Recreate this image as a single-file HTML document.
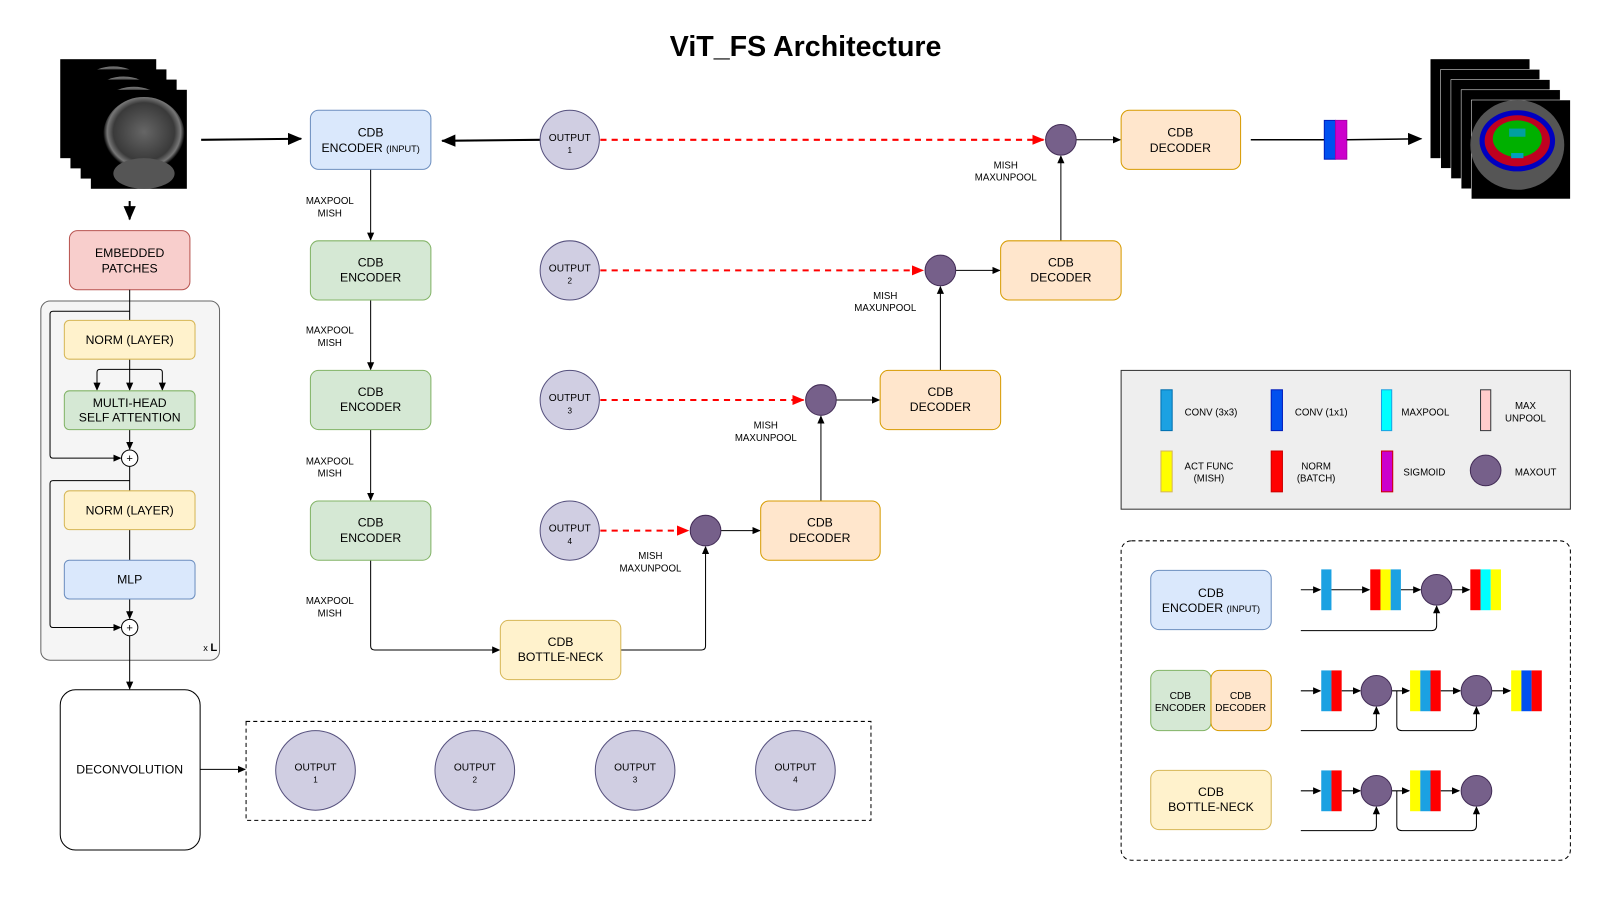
<!DOCTYPE html>
<html><head><meta charset="utf-8"><style>
html,body{margin:0;padding:0;background:#fff;}
svg{display:block;}
text{font-family:"Liberation Sans",Arial,sans-serif;fill:#000;}
</style></head><body>
<svg width="1600" height="900" viewBox="0 0 1567 882" preserveAspectRatio="none" xmlns="http://www.w3.org/2000/svg">
<defs>
<marker id="a" markerWidth="8" markerHeight="8" refX="7" refY="4" orient="auto" markerUnits="userSpaceOnUse"><path d="M0,0.5 L8,4 L0,7.5 z" fill="#000"/></marker>
<marker id="ab" markerWidth="14" markerHeight="12" refX="13" refY="6" orient="auto" markerUnits="userSpaceOnUse"><path d="M0,0 L14,6 L0,12 z" fill="#000"/></marker>
<marker id="ar" markerWidth="12" markerHeight="10" refX="11" refY="5" orient="auto" markerUnits="userSpaceOnUse"><path d="M0,0 L12,5 L0,10 z" fill="#f00"/></marker>
<radialGradient id="br" cx="0.5" cy="0.45" r="0.5"><stop offset="0" stop-color="#666"/><stop offset="0.75" stop-color="#3a3a3a"/><stop offset="0.9" stop-color="#777"/><stop offset="1" stop-color="#000"/></radialGradient>
<g id="img"><rect width="94" height="97" fill="#000"/><ellipse cx="52" cy="45" rx="40" ry="38" fill="url(#br)"/><ellipse cx="52" cy="82" rx="30" ry="15" fill="#555"/></g>
</defs>

<text x="789" y="55" font-size="28" font-weight="bold" text-anchor="middle">ViT_FS Architecture</text>

<use href="#img" x="59" y="58"/><use href="#img" x="69" y="68"/><use href="#img" x="79" y="78"/><use href="#img" x="89" y="88"/>
<line x1="197" y1="137" x2="295" y2="136" stroke="#000" stroke-width="2" marker-end="url(#ab)"/>
<line x1="127" y1="197" x2="127" y2="215" stroke="#000" stroke-width="2" marker-end="url(#ab)"/>

<g>
<rect x="1401" y="58" width="97" height="97" fill="#000"/><rect x="1411" y="68" width="97" height="97" fill="#000" stroke="#fff" stroke-width="0.5"/><rect x="1421" y="78" width="97" height="97" fill="#000" stroke="#fff" stroke-width="0.5"/><rect x="1431" y="88" width="97" height="97" fill="#000" stroke="#fff" stroke-width="0.5"/><rect x="1441" y="98" width="97" height="97" fill="#000" stroke="#fff" stroke-width="0.5"/>
<ellipse cx="1486" cy="142" rx="46" ry="44" fill="#555"/>
<ellipse cx="1486" cy="138" rx="37" ry="30" fill="#0000c0"/>
<ellipse cx="1486" cy="138" rx="32" ry="25" fill="#c00020"/>
<ellipse cx="1486" cy="136" rx="24" ry="18" fill="#00b000"/>
<rect x="1478" y="126" width="16" height="8" fill="#00a0a0"/>
<rect x="1480" y="150" width="12" height="5" fill="#00a0c0"/>
</g>
<line x1="1225" y1="137" x2="1297" y2="137" stroke="#000" stroke-width="1.5"/>
<rect x="1297" y="118" width="11" height="38" fill="#0050ef" stroke="#001dbc"/>
<rect x="1308" y="118" width="11" height="38" fill="#cc00cc" stroke="#a0a"/>
<line x1="1319" y1="137" x2="1392" y2="136" stroke="#000" stroke-width="1.5" marker-end="url(#ab)"/>

<rect x="68" y="226" width="118" height="58" rx="8" fill="#f8cecc" stroke="#b85450"/>
<text x="127" y="252" font-size="12" text-anchor="middle">EMBEDDED</text><text x="127" y="267" font-size="12" text-anchor="middle">PATCHES</text>
<rect x="40" y="295" width="175" height="352" rx="9" fill="#f5f5f5" stroke="#666"/>
<text x="199" y="638" font-size="9">x <tspan font-weight="bold" font-size="11">L</tspan></text>
<g stroke="#000" fill="none" stroke-width="1">
<line x1="127" y1="284" x2="127" y2="314"/>
<path d="M127,305 H52 Q49,305 49,308 V446 Q49,449 52,449 H118" marker-end="url(#a)"/>
<line x1="127" y1="352" x2="127" y2="382" marker-end="url(#a)"/>
<path d="M127,362 H98 Q95,362 95,365 V382" marker-end="url(#a)"/>
<path d="M127,362 H156 Q159,362 159,365 V382" marker-end="url(#a)"/>
<line x1="127" y1="421" x2="127" y2="440" marker-end="url(#a)"/>
<line x1="127" y1="457" x2="127" y2="481"/>
<path d="M127,471 H52 Q49,471 49,474 V612 Q49,615 52,615 H118" marker-end="url(#a)"/>
<line x1="127" y1="519" x2="127" y2="549"/>
<line x1="127" y1="587" x2="127" y2="606" marker-end="url(#a)"/>
<line x1="127" y1="623" x2="127" y2="675" marker-end="url(#a)"/>
</g>
<rect x="63" y="314" width="128" height="38" rx="5" fill="#fff2cc" stroke="#d6b656"/>
<text x="127" y="337" font-size="12" text-anchor="middle">NORM (LAYER)</text>
<rect x="63" y="383" width="128" height="38" rx="5" fill="#d5e8d4" stroke="#82b366"/>
<text x="127" y="399" font-size="12" text-anchor="middle">MULTI-HEAD</text><text x="127" y="413" font-size="12" text-anchor="middle">SELF ATTENTION</text>
<circle cx="127" cy="449" r="8" fill="#fff" stroke="#000"/><text x="127" y="453" font-size="11" text-anchor="middle">+</text>
<rect x="63" y="481" width="128" height="38" rx="5" fill="#fff2cc" stroke="#d6b656"/>
<text x="127" y="504" font-size="12" text-anchor="middle">NORM (LAYER)</text>
<rect x="63" y="549" width="128" height="38" rx="5" fill="#dae8fc" stroke="#6c8ebf"/>
<text x="127" y="572" font-size="12" text-anchor="middle">MLP</text>
<circle cx="127" cy="615" r="8" fill="#fff" stroke="#000"/><text x="127" y="619" font-size="11" text-anchor="middle">+</text>

<rect x="59" y="676" width="137" height="157" rx="15" fill="#fff" stroke="#000"/>
<text x="127" y="758" font-size="12" text-anchor="middle">DECONVOLUTION</text>
<line x1="196" y1="754" x2="240" y2="754" stroke="#000" marker-end="url(#a)"/>
<rect x="241" y="707" width="612" height="97" fill="none" stroke="#000" stroke-dasharray="4,3"/>
<g font-size="10" text-anchor="middle">
<circle cx="309" cy="755" r="39" fill="#d0cee2" stroke="#56517e"/><text x="309" y="755">OUTPUT</text><text x="309" y="767" font-size="8">1</text>
<circle cx="465" cy="755" r="39" fill="#d0cee2" stroke="#56517e"/><text x="465" y="755">OUTPUT</text><text x="465" y="767" font-size="8">2</text>
<circle cx="622" cy="755" r="39" fill="#d0cee2" stroke="#56517e"/><text x="622" y="755">OUTPUT</text><text x="622" y="767" font-size="8">3</text>
<circle cx="779" cy="755" r="39" fill="#d0cee2" stroke="#56517e"/><text x="779" y="755">OUTPUT</text><text x="779" y="767" font-size="8">4</text>
</g>

<g stroke="#000" fill="none" stroke-width="1">
<line x1="363" y1="166" x2="363" y2="235" marker-end="url(#a)"/>
<line x1="363" y1="294" x2="363" y2="362" marker-end="url(#a)"/>
<line x1="363" y1="421" x2="363" y2="490" marker-end="url(#a)"/>
<path d="M363,549 V633 Q363,637 367,637 H489" marker-end="url(#a)"/>
<path d="M608,637 H687 Q691,637 691,633 V536" marker-end="url(#a)"/>
<line x1="529" y1="137" x2="433" y2="138" stroke-width="2" marker-end="url(#ab)"/>
<line x1="1054" y1="137" x2="1097" y2="137" marker-end="url(#a)"/>
<line x1="936" y1="265" x2="979" y2="265" marker-end="url(#a)"/>
<line x1="819" y1="392" x2="861" y2="392" marker-end="url(#a)"/>
<line x1="706" y1="520" x2="744" y2="520" marker-end="url(#a)"/>
<line x1="804" y1="491" x2="804" y2="408" marker-end="url(#a)"/>
<line x1="921" y1="363" x2="921" y2="281" marker-end="url(#a)"/>
<line x1="1039" y1="236" x2="1039" y2="153" marker-end="url(#a)"/>
</g>
<g stroke="#f00" stroke-width="2" stroke-dasharray="6,5" fill="none">
<line x1="588" y1="137" x2="1022" y2="137" marker-end="url(#ar)"/>
<line x1="588" y1="265" x2="904" y2="265" marker-end="url(#ar)"/>
<line x1="588" y1="392" x2="787" y2="392" marker-end="url(#ar)"/>
<line x1="588" y1="520" x2="674" y2="520" marker-end="url(#ar)"/>
</g>
<g font-size="9.5" text-anchor="middle">
<text x="323" y="200">MAXPOOL</text><text x="323" y="212">MISH</text>
<text x="323" y="327">MAXPOOL</text><text x="323" y="339">MISH</text>
<text x="323" y="455">MAXPOOL</text><text x="323" y="467">MISH</text>
<text x="323" y="592">MAXPOOL</text><text x="323" y="604">MISH</text>
<text x="637" y="548">MISH</text><text x="637" y="560">MAXUNPOOL</text>
<text x="750" y="420">MISH</text><text x="750" y="432">MAXUNPOOL</text>
<text x="867" y="293">MISH</text><text x="867" y="305">MAXUNPOOL</text>
<text x="985" y="165">MISH</text><text x="985" y="177">MAXUNPOOL</text>
</g>
<g font-size="12" text-anchor="middle">
<rect x="304" y="108" width="118" height="58" rx="8" fill="#dae8fc" stroke="#6c8ebf"/><text x="363" y="134">CDB</text><text x="363" y="149">ENCODER <tspan font-size="9">(INPUT)</tspan></text>
<rect x="304" y="236" width="118" height="58" rx="8" fill="#d5e8d4" stroke="#82b366"/><text x="363" y="261">CDB</text><text x="363" y="276">ENCODER</text>
<rect x="304" y="363" width="118" height="58" rx="8" fill="#d5e8d4" stroke="#82b366"/><text x="363" y="388">CDB</text><text x="363" y="403">ENCODER</text>
<rect x="304" y="491" width="118" height="58" rx="8" fill="#d5e8d4" stroke="#82b366"/><text x="363" y="516">CDB</text><text x="363" y="531">ENCODER</text>
<rect x="490" y="608" width="118" height="58" rx="8" fill="#fff2cc" stroke="#d6b656"/><text x="549" y="633">CDB</text><text x="549" y="648">BOTTLE-NECK</text>
<rect x="745" y="491" width="117" height="58" rx="8" fill="#ffe6cc" stroke="#d79b00"/><text x="803" y="516">CDB</text><text x="803" y="531">DECODER</text>
<rect x="862" y="363" width="118" height="58" rx="8" fill="#ffe6cc" stroke="#d79b00"/><text x="921" y="388">CDB</text><text x="921" y="403">DECODER</text>
<rect x="980" y="236" width="118" height="58" rx="8" fill="#ffe6cc" stroke="#d79b00"/><text x="1039" y="261">CDB</text><text x="1039" y="276">DECODER</text>
<rect x="1098" y="108" width="117" height="58" rx="8" fill="#ffe6cc" stroke="#d79b00"/><text x="1156" y="134">CDB</text><text x="1156" y="149">DECODER</text>
</g>
<g font-size="10" text-anchor="middle">
<circle cx="558" cy="137" r="29" fill="#d0cee2" stroke="#56517e"/><text x="558" y="138">OUTPUT</text><text x="558" y="150" font-size="8">1</text>
<circle cx="558" cy="265" r="29" fill="#d0cee2" stroke="#56517e"/><text x="558" y="266">OUTPUT</text><text x="558" y="278" font-size="8">2</text>
<circle cx="558" cy="392" r="29" fill="#d0cee2" stroke="#56517e"/><text x="558" y="393">OUTPUT</text><text x="558" y="405" font-size="8">3</text>
<circle cx="558" cy="520" r="29" fill="#d0cee2" stroke="#56517e"/><text x="558" y="521">OUTPUT</text><text x="558" y="533" font-size="8">4</text>
</g>
<g fill="#76608a" stroke="#432d57">
<circle cx="1039" cy="137" r="15"/><circle cx="921" cy="265" r="15"/><circle cx="804" cy="392" r="15"/><circle cx="691" cy="520" r="15"/>
</g>

<rect x="1098" y="363" width="440" height="136" fill="#eeeeee" stroke="#333"/>
<g stroke-width="1">
<rect x="1137" y="382" width="11" height="40" fill="#1ba1e2" stroke="#006eaf"/>
<rect x="1245" y="382" width="11" height="40" fill="#0050ef" stroke="#001dbc"/>
<rect x="1353" y="382" width="10" height="40" fill="#00ffff" stroke="#1ba1e2"/>
<rect x="1450" y="382" width="10" height="40" fill="#ffcccc" stroke="#36393d"/>
<rect x="1137" y="442" width="11" height="40" fill="#ffff00" stroke="#d6b656"/>
<rect x="1245" y="442" width="11" height="40" fill="#ff0000" stroke="#c00"/>
<rect x="1353" y="442" width="11" height="40" fill="#cc00cc" stroke="#c00"/>
<circle cx="1455" cy="461" r="15" fill="#76608a" stroke="#432d57"/>
</g>
<g font-size="9.5" text-anchor="middle">
<text x="1186" y="407">CONV (3x3)</text>
<text x="1294" y="407">CONV (1x1)</text>
<text x="1396" y="407">MAXPOOL</text>
<text x="1494" y="401">MAX</text><text x="1494" y="413">UNPOOL</text>
<text x="1184" y="460">ACT FUNC</text><text x="1184" y="472">(MISH)</text>
<text x="1289" y="460">NORM</text><text x="1289" y="472">(BATCH)</text>
<text x="1395" y="466">SIGMOID</text>
<text x="1504" y="466">MAXOUT</text>
</g>

<rect x="1098" y="530" width="440" height="313" rx="10" fill="none" stroke="#000" stroke-dasharray="4,3"/>
<g text-anchor="middle">
<rect x="1127" y="559" width="118" height="58" rx="8" fill="#dae8fc" stroke="#6c8ebf"/><text x="1186" y="585" font-size="12">CDB</text><text x="1186" y="600" font-size="12">ENCODER <tspan font-size="9">(INPUT)</tspan></text>
<rect x="1127" y="657" width="59" height="59" rx="8" fill="#d5e8d4" stroke="#82b366"/><text x="1156" y="685" font-size="10">CDB</text><text x="1156" y="697" font-size="10">ENCODER</text>
<rect x="1186" y="657" width="59" height="59" rx="8" fill="#ffe6cc" stroke="#d79b00"/><text x="1215" y="685" font-size="10">CDB</text><text x="1215" y="697" font-size="10">DECODER</text>
<rect x="1127" y="755" width="118" height="58" rx="8" fill="#fff2cc" stroke="#d6b656"/><text x="1186" y="780" font-size="12">CDB</text><text x="1186" y="795" font-size="12">BOTTLE-NECK</text>
</g>
<g stroke="#000" fill="none" stroke-width="1">
<line x1="1274" y1="578" x2="1293" y2="578" marker-end="url(#a)"/>
<line x1="1304" y1="578" x2="1341" y2="578" marker-end="url(#a)"/>
<line x1="1372" y1="578" x2="1391" y2="578" marker-end="url(#a)"/>
<line x1="1422" y1="578" x2="1439" y2="578" marker-end="url(#a)"/>
<path d="M1274,618 H1402 Q1407,618 1407,613 V594" marker-end="url(#a)"/>
<line x1="1274" y1="677" x2="1293" y2="677" marker-end="url(#a)"/>
<line x1="1314" y1="677" x2="1332" y2="677" marker-end="url(#a)"/>
<line x1="1363" y1="677" x2="1380" y2="677" marker-end="url(#a)"/>
<line x1="1411" y1="677" x2="1430" y2="677" marker-end="url(#a)"/>
<line x1="1461" y1="677" x2="1479" y2="677" marker-end="url(#a)"/>
<path d="M1274,716 H1343 Q1348,716 1348,711 V693" marker-end="url(#a)"/>
<path d="M1368,677 V711 Q1368,716 1373,716 H1441 Q1446,716 1446,711 V693" marker-end="url(#a)"/>
<line x1="1274" y1="775" x2="1293" y2="775" marker-end="url(#a)"/>
<line x1="1314" y1="775" x2="1332" y2="775" marker-end="url(#a)"/>
<line x1="1363" y1="775" x2="1380" y2="775" marker-end="url(#a)"/>
<line x1="1411" y1="775" x2="1429" y2="775" marker-end="url(#a)"/>
<path d="M1274,814 H1343 Q1348,814 1348,809 V791" marker-end="url(#a)"/>
<path d="M1368,775 V809 Q1368,814 1373,814 H1441 Q1446,814 1446,809 V791" marker-end="url(#a)"/>
</g>
<g>
<rect x="1294" y="558" width="10" height="40" fill="#1ba1e2"/>
<rect x="1342" y="558" width="10" height="40" fill="#f00"/><rect x="1352" y="558" width="10" height="40" fill="#ff0"/><rect x="1362" y="558" width="10" height="40" fill="#1ba1e2"/>
<rect x="1440" y="558" width="10" height="40" fill="#f00"/><rect x="1450" y="558" width="10" height="40" fill="#0ff"/><rect x="1460" y="558" width="10" height="40" fill="#ff0"/>
<rect x="1294" y="657" width="10" height="40" fill="#1ba1e2"/><rect x="1304" y="657" width="10" height="40" fill="#f00"/>
<rect x="1381" y="657" width="10" height="40" fill="#ff0"/><rect x="1391" y="657" width="10" height="40" fill="#1ba1e2"/><rect x="1401" y="657" width="10" height="40" fill="#f00"/>
<rect x="1480" y="657" width="10" height="40" fill="#ff0"/><rect x="1490" y="657" width="10" height="40" fill="#0050ef"/><rect x="1500" y="657" width="10" height="40" fill="#f00"/>
<rect x="1294" y="755" width="10" height="40" fill="#1ba1e2"/><rect x="1304" y="755" width="10" height="40" fill="#f00"/>
<rect x="1381" y="755" width="10" height="40" fill="#ff0"/><rect x="1391" y="755" width="10" height="40" fill="#1ba1e2"/><rect x="1401" y="755" width="10" height="40" fill="#f00"/>
</g>
<g fill="#76608a" stroke="#432d57">
<circle cx="1407" cy="578" r="15"/>
<circle cx="1348" cy="677" r="15"/><circle cx="1446" cy="677" r="15"/>
<circle cx="1348" cy="775" r="15"/><circle cx="1446" cy="775" r="15"/>
</g>
</svg>
</body></html>
